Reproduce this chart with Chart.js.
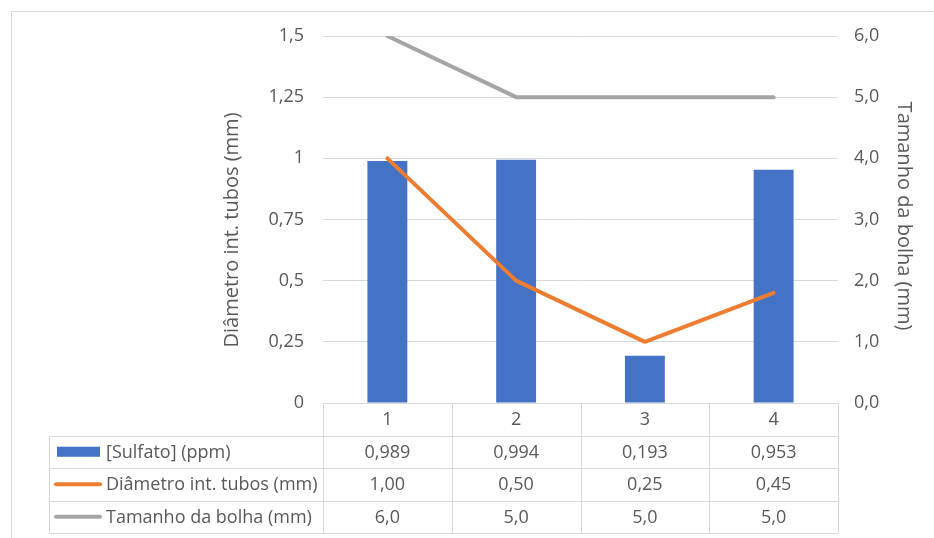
<!DOCTYPE html>
<html lang="pt">
<head>
<meta charset="utf-8">
<title>Sulfato x diâmetro dos tubos</title>
<script src="https://cdn.jsdelivr.net/npm/chart.js@4/dist/chart.umd.min.js"></script>
<style>
  html, body { margin: 0; padding: 0; background: #fff; }
  #chart { display: block; }
</style>
</head>
<body>
<canvas id="chart" width="934" height="538"></canvas>
<script>
// Dados do ensaio
const categorias = ["1", "2", "3", "4"];
const sulfato = [0.989, 0.994, 0.193, 0.953];      // ppm
const diametro = [1.00, 0.50, 0.25, 0.45];         // mm
const bolha = [6.0, 5.0, 5.0, 5.0];                // mm
const ticksEsq = [0, 0.25, 0.5, 0.75, 1, 1.25, 1.5];
const ticksDir = [0, 1, 2, 3, 4, 5, 6];

const AZUL = "#4472C4", LARANJA = "#ED7D31", CINZA = "#A5A5A5";
const TEXTO = "#595959", GRADE = "#D9D9D9";
const FONTE = "'Open Sans', 'Noto Sans', sans-serif";

const virgula = (v, casas) => (casas == null ? String(v) : v.toFixed(casas)).replace(".", ",");

// tabela de dados desenhada abaixo do gráfico, alinhada com as categorias
const tabelaDados = {
    id: "tabelaDados",
    afterDraw(chart) {
        const { ctx, chartArea } = chart;
        const x = chart.scales.x;
        const larg = (chartArea.right - chartArea.left) / categorias.length;
        const topo = chartArea.bottom;
        const alt = 32.5;
        const esq = 49;
        const linhas = [
            { nome: "[Sulfato] (ppm)", dados: sulfato, casas: 3, cor: AZUL, tipo: "barra" },
            { nome: "Diâmetro int. tubos (mm)", dados: diametro, casas: 2, cor: LARANJA, tipo: "linha" },
            { nome: "Tamanho da bolha (mm)", dados: bolha, casas: 1, cor: CINZA, tipo: "linha" }
        ];
        const fundo = topo + alt * (linhas.length + 1);

        ctx.save();
        ctx.strokeStyle = GRADE;
        ctx.lineWidth = 1;
        ctx.beginPath();
        // verticais das colunas
        for (let i = 0; i <= categorias.length; i++) {
            const px = Math.round(chartArea.left + i * larg) + 0.5;
            ctx.moveTo(px, topo);
            ctx.lineTo(px, fundo);
        }
        // horizontais
        ctx.moveTo(chartArea.left, Math.round(topo) + 0.5);
        ctx.lineTo(chartArea.right, Math.round(topo) + 0.5);
        for (let r = 1; r <= linhas.length + 1; r++) {
            const py = Math.round(topo + r * alt) + 0.5;
            ctx.moveTo(esq, py);
            ctx.lineTo(chartArea.right, py);
        }
        ctx.moveTo(esq + 0.5, topo + alt);
        ctx.lineTo(esq + 0.5, fundo);
        ctx.stroke();

        ctx.fillStyle = TEXTO;
        ctx.font = "18px " + FONTE;
        ctx.textBaseline = "middle";
        ctx.textAlign = "center";
        categorias.forEach((c, i) => {
            ctx.fillText(c, x.getPixelForValue(i), topo + alt / 2 + 1);
        });

        linhas.forEach((l, r) => {
            const cy = topo + alt * (r + 1) + alt / 2;
            // chave da legenda
            if (l.tipo === "barra") {
                ctx.fillStyle = l.cor;
                ctx.fillRect(57, cy - 5, 43, 10);
            } else {
                ctx.strokeStyle = l.cor;
                ctx.lineWidth = 4;
                ctx.lineCap = "round";
                ctx.beginPath();
                ctx.moveTo(56, cy);
                ctx.lineTo(100, cy);
                ctx.stroke();
            }
            ctx.fillStyle = TEXTO;
            ctx.textAlign = "left";
            ctx.fillText(l.nome, 106, cy + 1);
            ctx.textAlign = "center";
            l.dados.forEach((v, i) => {
                ctx.fillText(virgula(v, l.casas), x.getPixelForValue(i), cy + 1);
            });
        });

        // títulos dos eixos
        ctx.font = "20px " + FONTE;
        ctx.fillStyle = TEXTO;
        ctx.textAlign = "center";
        ctx.save();
        ctx.translate(232, 230);
        ctx.rotate(-Math.PI / 2);
        ctx.fillText("Diâmetro int. tubos (mm)", 0, 0);
        ctx.restore();
        ctx.save();
        ctx.translate(904, 216);
        ctx.rotate(Math.PI / 2);
        ctx.fillText("Tamanho da bolha (mm)", 0, 0);
        ctx.restore();

        // moldura
        ctx.strokeStyle = GRADE;
        ctx.lineWidth = 1;
        ctx.strokeRect(11.5, 11.5, 940, 540);
        ctx.restore();
    }
};

new Chart(document.getElementById("chart"), {
    type: "bar",
    data: {
        labels: categorias,
        datasets: [
            {
                type: "line",
                label: "Tamanho da bolha (mm)",
                data: bolha,
                yAxisID: "y1",
                borderColor: CINZA,
                borderWidth: 4,
                pointRadius: 0,
                borderCapStyle: "round",
                borderJoinStyle: "round",
                order: 1
            },
            {
                type: "line",
                label: "Diâmetro int. tubos (mm)",
                data: diametro,
                yAxisID: "y",
                borderColor: LARANJA,
                borderWidth: 4,
                pointRadius: 0,
                borderCapStyle: "round",
                borderJoinStyle: "round",
                order: 2
            },
            {
                label: "[Sulfato] (ppm)",
                data: sulfato,
                yAxisID: "y",
                backgroundColor: AZUL,
                categoryPercentage: 1,
                barPercentage: 0.31,
                order: 3
            }
        ]
    },
    options: {
        responsive: false,
        animation: false,
        events: [],
        layout: { padding: { top: 36, bottom: 135, left: 0, right: 0 } },
        plugins: {
            legend: { display: false },
            tooltip: { enabled: false }
        },
        scales: {
            x: { display: false, offset: true },
            y: {
                position: "left",
                min: 0,
                max: 1.5,
                afterBuildTicks: (s) => { s.ticks = ticksEsq.map(v => ({ value: v })); },
                afterFit: (s) => { s.width = 323; },
                border: { display: false },
                grid: { color: GRADE, lineWidth: 1, drawTicks: false },
                ticks: {
                    color: TEXTO,
                    padding: 19,
                    font: { family: FONTE, size: 18 },
                    callback: (v) => virgula(v)
                }
            },
            y1: {
                position: "right",
                min: 0,
                max: 6,
                afterBuildTicks: (s) => { s.ticks = ticksDir.map(v => ({ value: v })); },
                afterFit: (s) => { s.width = 96; },
                border: { display: false },
                grid: { drawOnChartArea: false, drawTicks: false },
                ticks: {
                    color: TEXTO,
                    padding: 16,
                    font: { family: FONTE, size: 18 },
                    callback: (v) => virgula(v, 1)
                }
            }
        }
    },
    plugins: [tabelaDados]
});
</script>
</body>
</html>
